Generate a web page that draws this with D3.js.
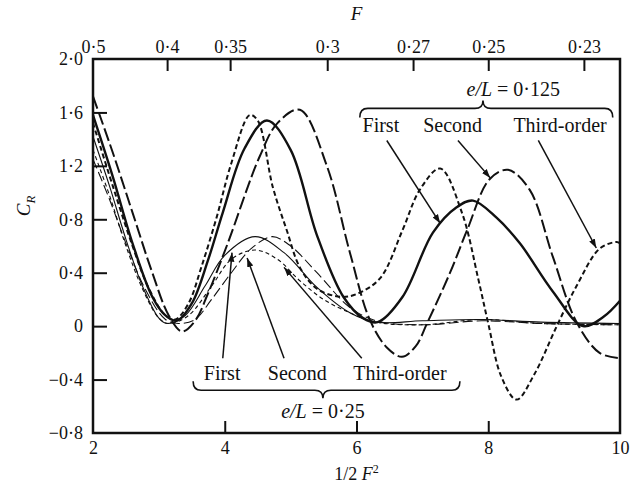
<!DOCTYPE html>
<html><head><meta charset="utf-8">
<script src="https://cdn.jsdelivr.net/npm/d3@7"></script>
<style>body{margin:0;background:#fff}svg{display:block}text{font-family:"Liberation Serif","DejaVu Serif",serif;fill:#111}</style>
</head><body><svg id="c" width="633" height="490"></svg>
<script>
// ---- data (x = 1/2F^2, y = C_R) ----
const bottomTicks = [2, 4, 6, 8, 10];
const leftTicks = [-0.8, -0.4, 0, 0.4, 0.8, 1.2, 1.6, 2.0];
const topTicksF = [0.5, 0.4, 0.35, 0.3, 0.27, 0.25, 0.23];

// e/L = 0.125
const first125 = [[2,1.58],[2.3,1.12],[2.6,0.62],[2.9,0.22],[3.1,0.08],[3.27,0.04],[3.5,0.17],[3.75,0.5],[3.97,0.85],[4.3,1.33],[4.64,1.54],[5.0,1.32],[5.4,0.68],[5.8,0.22],[6.1,0.06],[6.32,0.03],[6.7,0.22],[7.16,0.7],[7.52,0.89],[7.77,0.94],[8.13,0.81],[8.48,0.62],[8.98,0.26],[9.44,0.0],[9.75,0.07],[10,0.19]];
const second125 = [[2,1.72],[2.3,1.3],[2.6,0.85],[2.9,0.4],[3.15,0.08],[3.35,-0.04],[3.55,0.04],[3.75,0.25],[4.03,0.6],[4.53,1.27],[4.8,1.52],[5.14,1.62],[5.55,1.2],[5.9,0.55],[6.2,0.05],[6.46,-0.16],[6.69,-0.23],[6.9,-0.15],[7.07,0.02],[7.42,0.4],[7.68,0.72],[8.02,1.1],[8.3,1.17],[8.63,1.02],[8.98,0.52],[9.34,0.03],[9.69,-0.2],[10,-0.24]];
const third125 = [[2,1.52],[2.3,1.05],[2.6,0.6],[2.85,0.28],[3.1,0.08],[3.25,0.05],[3.45,0.17],[3.65,0.45],[3.88,0.82],[4.1,1.22],[4.38,1.58],[4.5,1.54],[4.73,1.04],[4.94,0.72],[5.14,0.44],[5.4,0.28],[5.75,0.22],[6.0,0.24],[6.36,0.36],[6.7,0.72],[6.96,1.02],[7.27,1.18],[7.6,0.85],[7.85,0.35],[8.0,0.02],[8.2,-0.38],[8.43,-0.55],[8.7,-0.36],[9.04,0.0],[9.34,0.3],[9.69,0.58],[9.95,0.63],[10,0.62]];
// e/L = 0.25
const first25 = [[2,1.42],[2.25,1.05],[2.5,0.65],[2.75,0.3],[3.0,0.06],[3.12,0.02],[3.4,0.08],[3.7,0.3],[4.0,0.53],[4.46,0.67],[4.9,0.55],[5.4,0.29],[5.9,0.1],[6.3,0.03],[7.0,0.04],[7.9,0.05],[8.8,0.03],[10,0.02]];
const second25 = [[2,1.32],[2.25,0.98],[2.5,0.6],[2.75,0.28],[3.0,0.06],[3.15,0.02],[3.45,0.08],[3.8,0.3],[4.1,0.5],[4.46,0.57],[4.8,0.5],[5.14,0.34],[5.5,0.2],[5.9,0.1],[6.3,0.03],[7.0,0.01],[7.9,0.05],[8.8,0.02],[10,0.01]];
const third25 = [[2,1.25],[2.25,0.95],[2.5,0.62],[2.8,0.27],[3.1,0.05],[3.3,0.02],[3.55,0.05],[3.8,0.2],[4.1,0.4],[4.4,0.58],[4.72,0.67],[5.0,0.6],[5.4,0.4],[5.9,0.14],[6.3,0.04],[7.0,0.01],[7.9,0.04],[8.8,0.02],[10,0.01]];

const seriesList = [
  {name:"First (e/L=0.25)", data:first25, w:1.1, dash:null},
  {name:"Second (e/L=0.25)", data:second25, w:1.1, dash:"4,3"},
  {name:"Third-order (e/L=0.25)", data:third25, w:1.1, dash:"10,4"},
  {name:"First (e/L=0.125)", data:first125, w:2.4, dash:null},
  {name:"Second (e/L=0.125)", data:second125, w:2.0, dash:"13,4"},
  {name:"Third-order (e/L=0.125)", data:third125, w:2.0, dash:"5,3"}
];

// annotations (data units)
const topLabels = [["First",6.37],["Second",7.46],["Third-order",9.09]];
const botLabels = [["First",3.96],["Second",5.10],["Third-order",6.66]];
const topArrows = [[6.46,1.39,7.27,0.77],[7.54,1.39,8.03,1.11],[8.76,1.39,9.64,0.585]];
const botArrows = [[3.97,-0.24,4.11,0.55],[4.90,-0.24,4.34,0.51],[6.08,-0.24,4.90,0.44]];

// ---- drawing ----
const svg = d3.select("#c");
const x = d3.scaleLinear().domain([2,10]).range([93,620]);
const y = d3.scaleLinear().domain([-0.8,2.0]).range([433,59]);
const fmt = v => (v<0?"\u2212":"") + (v===0 ? "0" : Math.abs(v).toFixed(1).replace(".","\u00B7"));

// frame
svg.append("rect").attr("x",x(2)).attr("y",y(2)).attr("width",x(10)-x(2)).attr("height",y(-0.8)-y(2))
  .attr("fill","none").attr("stroke","#111").attr("stroke-width",2.5);

const gl = svg.append("g").attr("transform",`translate(${x(2)},0)`)
  .call(d3.axisLeft(y).tickValues(leftTicks).tickSize(-14).tickPadding(10).tickFormat(fmt));
const gb = svg.append("g").attr("transform",`translate(0,${y(-0.8)})`)
  .call(d3.axisBottom(x).tickValues(bottomTicks).tickSize(-12).tickPadding(8).tickFormat(d=>String(d)));
const gt = svg.append("g").attr("transform",`translate(0,${y(2)})`)
  .call(d3.axisTop(x).tickValues(topTicksF.map(f=>1/(2*f*f))).tickSize(-12).tickPadding(6)
    .tickFormat((d,i)=>String(topTicksF[i]).replace(".","\u00B7")));
[gl,gb,gt].forEach(g=>{
  g.select(".domain").remove();
  g.selectAll(".tick line").attr("stroke","#111").attr("stroke-width",2);
  g.selectAll(".tick text").attr("font-size",18).attr("font-family","Liberation Serif").attr("fill","#111");
});
gb.selectAll(".tick line").filter(d=>d===2||d===10).remove();
gl.selectAll(".tick line").filter(d=>d===2||d===-0.8).remove();
gt.selectAll(".tick line").filter((d,i)=>i===0).remove();

// curves
const line = d3.line().x(d=>x(d[0])).y(d=>y(d[1])).curve(d3.curveCatmullRom.alpha(0.5));
const gc = svg.append("g");
seriesList.forEach(s=>{
  gc.append("path").datum(s.data).attr("d",line).attr("fill","none")
    .attr("stroke","#111").attr("stroke-width",s.w)
    .attr("stroke-dasharray",s.dash).attr("stroke-linejoin","round");
});

// axis titles
svg.append("text").attr("x",x(6)).attr("y",20).attr("text-anchor","middle")
  .attr("font-size",19).attr("font-style","italic").text("F");
const xt = svg.append("text").attr("x",x(6)).attr("y",480).attr("text-anchor","middle").attr("font-size",18);
xt.append("tspan").text("1/2 ");
xt.append("tspan").attr("font-style","italic").text("F");
xt.append("tspan").attr("font-size",12).attr("dy",-7).text("2");
const yt = svg.append("text").attr("transform",`translate(30,${y(0.9)}) rotate(-90)`).attr("text-anchor","middle").attr("font-size",19);
yt.append("tspan").attr("font-style","italic").text("C");
yt.append("tspan").attr("font-style","italic").attr("font-size",13).attr("dy",5).text("R");

// arrows
svg.append("defs").append("marker").attr("id","ah").attr("viewBox","0 0 10 10").attr("refX",10).attr("refY",5)
  .attr("markerWidth",9).attr("markerHeight",9).attr("markerUnits","userSpaceOnUse").attr("orient","auto")
  .append("path").attr("d","M0,1.5 L10,5 L0,8.5 Z").attr("fill","#111");
const ga = svg.append("g");
topArrows.concat(botArrows).forEach(a=>{
  ga.append("line").attr("x1",x(a[0])).attr("y1",y(a[1])).attr("x2",x(a[2])).attr("y2",y(a[3]))
    .attr("stroke","#111").attr("stroke-width",1.5).attr("marker-end","url(#ah)");
});

// labels
topLabels.forEach(l=>svg.append("text").attr("x",x(l[1])).attr("y",y(1.454)).attr("text-anchor","middle").attr("font-size",20).text(l[0]));
botLabels.forEach(l=>svg.append("text").attr("x",x(l[1])).attr("y",y(-0.40)).attr("text-anchor","middle").attr("font-size",20).text(l[0]));

function brace(x1,x2,xm,yy,dir){ // dir=+1: ends curl down, tip up
  const e=9*dir, t=8*dir, r=8;
  return `M${x1},${yy+e} Q${x1},${yy} ${x1+r},${yy} L${xm-r},${yy} Q${xm},${yy} ${xm},${yy-t} Q${xm},${yy} ${xm+r},${yy} L${x2-r},${yy} Q${x2},${yy} ${x2},${yy+e}`;
}
svg.append("path").attr("d",brace(x(6.05),x(9.89),x(7.92),y(1.63),1)).attr("fill","none").attr("stroke","#111").attr("stroke-width",1.6);
svg.append("path").attr("d",brace(x(3.52),x(7.57),x(5.49),y(-0.48),-1)).attr("fill","none").attr("stroke","#111").attr("stroke-width",1.6);

function eL(xv,yv,val){
  const t=svg.append("text").attr("x",x(xv)).attr("y",y(yv)).attr("text-anchor","middle").attr("font-size",20);
  t.append("tspan").attr("font-style","italic").text("e/L");
  t.append("tspan").text(" = "+val);
}
eL(8.38,1.72,"0\u00B7125");
eL(5.49,-0.69,"0\u00B725");
</script></body></html>
